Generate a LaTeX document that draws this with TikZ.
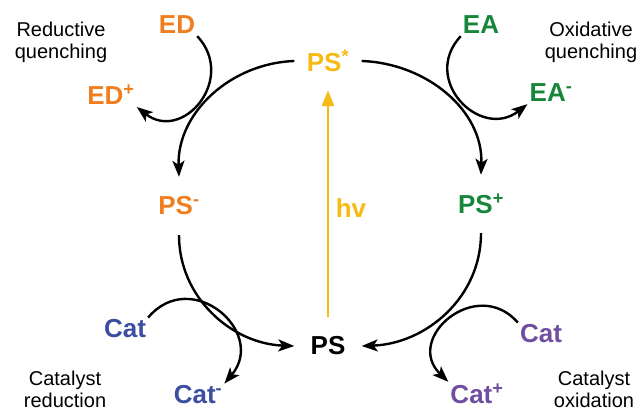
\documentclass[tikz,border=0pt]{standalone}
\usepackage{fontspec}
\setmainfont{Liberation Sans}
\usetikzlibrary{arrows.meta}

\definecolor{psorange}{HTML}{F07E1E}
\definecolor{psyellow}{HTML}{F7B914}
\definecolor{psgreen}{HTML}{16873A}
\definecolor{psblue}{HTML}{3B4EA0}
\definecolor{pspurple}{HTML}{6F4D9F}

\begin{document}
\begin{tikzpicture}[x=1pt,y=1pt,
		species/.style={font=\fontsize{26}{30}\selectfont\bfseries, inner sep=2pt},
		state/.style={species, minimum width=67pt, minimum height=58pt, inner sep=0pt},
		caption/.style={font=\fontsize{20}{22}\selectfont, align=center},
		flow/.style={line width=2.4pt, -{Stealth[length=16pt,width=12pt,inset=4pt]}}]
		\useasboundingbox (0,0) rectangle (640,412);
		% photosensitizer states
		\node[state, psyellow] (PSs) at (328,351) {PS\textsuperscript{*}};
		\node[state, psorange] (PSm) at (179,206) {PS\textsuperscript{-}};
		\node[state, psgreen]  (PSp) at (481,208) {PS\textsuperscript{+}};
		\node[state]           (PS)  at (328,66)  {PS};
		% donors, acceptors and catalysts
		\node[species, psorange] (ED)    at (177,387) {ED};
		\node[species, psorange] (EDp)   at (111,317) {ED\textsuperscript{+}};
		\node[species, psgreen]  (EA)    at (481,387) {EA};
		\node[species, psgreen]  (EAm)   at (551,319) {EA\textsuperscript{-}};
		\node[species, psblue]   (CatB)  at (125,83)  {Cat};
		\node[species, psblue]   (CatBm) at (198,17)  {Cat\textsuperscript{-}};
		\node[species, pspurple] (CatP)  at (541,78)  {Cat};
		\node[species, pspurple] (CatPp) at (477,18)  {Cat\textsuperscript{+}};
		\node[species, psyellow] (hv)    at (351,204) {hv};
		% captions
		\node[caption] (redq) at (61,370)  {Reductive\\quenching};
		\node[caption] (oxq)  at (591,370) {Oxidative\\quenching};
		\node[caption] (catr) at (65,23)   {Catalyst\\reduction};
		\node[caption] (cato) at (594,23)  {Catalyst\\oxidation};
		% excitation
		\draw[line width=2.8pt, psyellow, -{Triangle[length=16pt,width=12pt]}] (PS.north) -- (PSs.south);
		% cycle
		\draw[flow] (PSs.west) to[out=182, in=92] (PSm.north);
		\draw[flow] (PSs.east) to[out=-2, in=88] (PSp.north);
		\draw[flow] (PSm.south) to[out=-90, in=178] (PS.west);
		\draw[flow] (PSp.south) to[out=-90, in=2] (PS.east);
		% side reactions
		\draw[flow] (ED.south east) to[out=-47, in=-38, looseness=1.6] (EDp.south east);
		\draw[flow] (EA.south west) to[out=-133, in=-142, looseness=1.6] (EAm.south west);
		\draw[flow] (CatB.north east) to[out=50, in=50, looseness=1.7] (CatBm.north east);
		\draw[flow] (CatP.north west) to[out=131, in=136, looseness=1.75] (CatPp.north west);
	\end{tikzpicture}
\end{document}
